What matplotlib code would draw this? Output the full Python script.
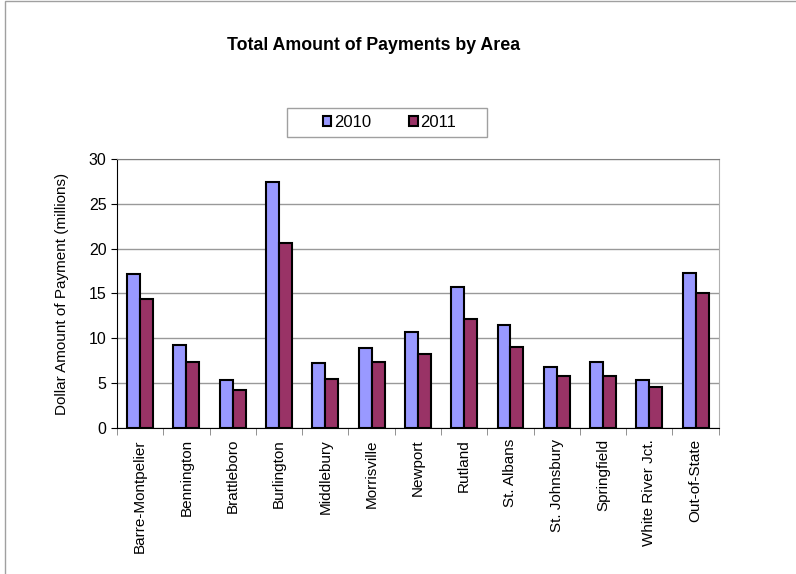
import numpy as np
import matplotlib
matplotlib.use('Agg')
import matplotlib.pyplot as plt
from matplotlib.patches import Rectangle

areas = ['Barre-Montpelier', 'Bennington', 'Brattleboro', 'Burlington', 'Middlebury',
         'Morrisville', 'Newport', 'Rutland', 'St. Albans', 'St. Johnsbury',
         'Springfield', 'White River Jct.', 'Out-of-State']
pay_2010 = [17.2, 9.3, 5.4, 27.4, 7.3, 8.9, 10.7, 15.7, 11.5, 6.75, 7.35, 5.4, 17.25]
pay_2011 = [14.4, 7.4, 4.25, 20.6, 5.45, 7.35, 8.3, 12.1, 9.05, 5.85, 5.85, 4.6, 15.1]
y_ticks = [0, 5, 10, 15, 20, 25, 30]

plt.rcParams['font.family'] = ['Liberation Sans', 'DejaVu Sans']

fig = plt.figure(figsize=(7.96, 5.74), dpi=100)
# chart area border
fig.patches.append(Rectangle((0.006, -0.01), 1.1, 1.008, transform=fig.transFigure,
                             fill=False, edgecolor='#a0a0a0', linewidth=1))

ax = fig.add_axes([0.147, 0.2544, 0.756, 0.4686])
x = np.arange(len(areas))
w = 0.28
ax.bar(x - w/2, pay_2010, w, color='#9999FF', edgecolor='black', linewidth=1.5,
       label='2010', zorder=3)
ax.bar(x + w/2, pay_2011, w, color='#993366', edgecolor='black', linewidth=1.5,
       label='2011', zorder=3)

ax.set_xlim(-0.5, len(areas) - 0.5)
ax.set_ylim(0, 30)
ax.set_yticks(y_ticks)
ax.yaxis.grid(True, color='#999999', linewidth=1, zorder=0)
ax.set_axisbelow(True)

ax.set_xticks(x)
ax.set_xticklabels(areas, rotation=90, fontsize=11)
ax.set_xticks(np.arange(len(areas) + 1) - 0.5, minor=True)
ax.tick_params(axis='x', which='major', length=0, pad=8)
ax.tick_params(axis='x', which='minor', length=5, color='#808080', direction='out')
ax.tick_params(axis='y', labelsize=11.5, length=4, direction='out', color='black')

ax.spines['left'].set_color('black')
ax.spines['bottom'].set_color('black')
ax.spines['top'].set_color('#808080')
ax.spines['right'].set_color('#b0b0b0')

ax.set_ylabel('Dollar Amount of Payment (millions)', fontsize=11, labelpad=14)

fig.text(0.469, 0.921, 'Total Amount of Payments by Area', ha='center', va='center',
         fontsize=12.8, fontweight='bold')

# legend box drawn separately
fig.patches.append(Rectangle((287/796, 1 - 137/574), 200/796, 29/574,
                             transform=fig.transFigure, fill=False,
                             edgecolor='#a0a0a0', linewidth=1))
leg = fig.legend(loc='center', bbox_to_anchor=(389.5/796, 1 - 122.5/574), ncol=2,
                 fontsize=12, frameon=False, handlelength=0.5, handleheight=0.5,
                 handletextpad=0.15, columnspacing=2.3, borderpad=0)

fig.savefig('out.png', dpi=100)
